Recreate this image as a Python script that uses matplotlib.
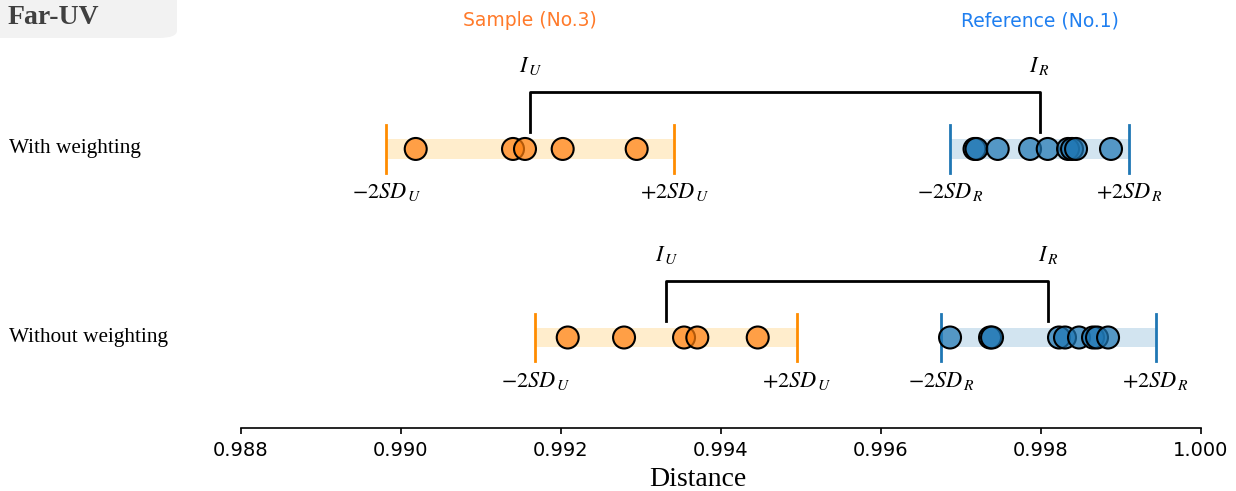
import numpy as np
import matplotlib
matplotlib.use("Agg")
import matplotlib.pyplot as plt
from matplotlib.patches import FancyBboxPatch
import matplotlib.transforms as mtransforms
from matplotlib.colors import to_rgba

# ---------------- data ----------------
row_labels = ["With weighting", "Without weighting"]

sample_with = [0.990184, 0.991400, 0.991550, 0.992021, 0.992946]
ref_with = [0.997169, 0.997194, 0.997459, 0.997863, 0.998084,
            0.998338, 0.998388, 0.998438, 0.998875]
sample_without = [0.992084, 0.992788, 0.993538, 0.993704, 0.994459]
ref_without = [0.996863, 0.997363, 0.997388, 0.998225, 0.998300,
               0.998475, 0.998650, 0.998700, 0.998838]

sd_sample = [0.00090, 0.000818]
sd_ref = [0.00056, 0.000671]
mean_sample = [0.991616, 0.993315]
mean_ref = [0.997983, 0.998092]

xticks = [0.988, 0.990, 0.992, 0.994, 0.996, 0.998, 1.000]

# ---------------- style ----------------
plt.rcParams['mathtext.fontset'] = 'stix'
W, H = 1236, 491
fig = plt.figure(figsize=(W / 100, H / 100), dpi=100)
ax = fig.add_axes([241 / W, (H - 428) / H, 960 / W, 428 / H])

ax.set_xlim(0.988, 1.000)
ax.set_ylim(-0.48, 1.79)
for s in ["top", "right", "left"]:
    ax.spines[s].set_visible(False)
ax.spines["bottom"].set_linewidth(1.2)
ax.set_yticks([])
ax.set_xticks(xticks)
ax.set_xticklabels([f"{t:.3f}" for t in xticks], fontsize=14, family="DejaVu Sans")
ax.tick_params(axis="x", length=4, width=1.2, pad=5)
ax.set_xlabel("Distance", fontsize=20, family="Liberation Serif")
ax.xaxis.set_label_coords((698 - 241) / 960, -0.09)

orange_pt = to_rgba("#ff7f0e", 0.7)
orange_line = "#ff8c00"
orange_band = "#ffedcc"
blue_pt = to_rgba("#1f77b4", 0.7)
blue_line = "#1f77b4"
blue_band = "#d2e4f0"

rows = [
    (1.0, sample_with, ref_with, 0),
    (0.0, sample_without, ref_without, 1),
]

band_h = 0.053
tick_h = 0.125
for y, samp, ref, i in rows:
    for vals, mean, sd, pc, lc, bc, sub in [
        (samp, mean_sample[i], sd_sample[i], orange_pt, orange_line, orange_band, "U"),
        (ref, mean_ref[i], sd_ref[i], blue_pt, blue_line, blue_band, "R"),
    ]:
        lo, hi = mean - 2 * sd, mean + 2 * sd
        ax.fill_between([lo, hi], y - band_h, y + band_h, color=bc, lw=0, zorder=1)
        ax.plot([lo, lo], [y - tick_h, y + tick_h], color=lc, lw=2, zorder=2)
        ax.plot([hi, hi], [y - tick_h, y + tick_h], color=lc, lw=2, zorder=2)
        ax.scatter(vals, [y] * len(vals), s=250, facecolors=[pc] * len(vals),
                   edgecolors="black", linewidths=1.5, zorder=3)
        ax.text(lo, y - 0.23, rf"$-2SD_{{\,{sub}}}$", ha="center", va="center", fontsize=16)
        ax.text(hi, y - 0.23, rf"$+2SD_{{\,{sub}}}$", ha="center", va="center", fontsize=16)
    # bracket
    top = y + 0.30
    ax.plot([mean_sample[i], mean_sample[i], mean_ref[i], mean_ref[i]],
            [y + 0.09, top, top, y + 0.09], color="black", lw=2, zorder=2)
    ax.text(mean_sample[i], y + 0.44, r"$I_{\,U}$", ha="center", va="center", fontsize=16)
    ax.text(mean_ref[i], y + 0.44, r"$I_{\,R}$", ha="center", va="center", fontsize=16)

# row labels
trans = mtransforms.blended_transform_factory(fig.transFigure, ax.transData)
for y, lab in zip([1.0, 0.0], row_labels):
    ax.text(9 / W, y, lab, transform=trans, ha="left", va="center",
            fontsize=15.3, family="Liberation Serif")

# headers
ax.text(mean_sample[0], 1.681, "Sample (No.3)", ha="center", va="center",
        fontsize=13.5, color="#ff7a2a", family="DejaVu Sans")
ax.text(mean_ref[0], 1.681, "Reference (No.1)", ha="center", va="center",
        fontsize=13.5, color="#1f7ff0", family="DejaVu Sans")

# Far-UV box
box = FancyBboxPatch((-20 / W, (H - 38) / H), 197 / W, 60 / H,
                     boxstyle="round,pad=0,rounding_size=0.015",
                     transform=fig.transFigure, facecolor="#f2f2f2",
                     edgecolor="none", zorder=0)
fig.patches.append(box)
fig.text(8 / W, (H - 18) / H, "Far-UV", ha="left", va="center", fontsize=20,
         fontweight="bold", family="Liberation Serif", color="#404040")

fig.savefig("out.png", dpi=100)
